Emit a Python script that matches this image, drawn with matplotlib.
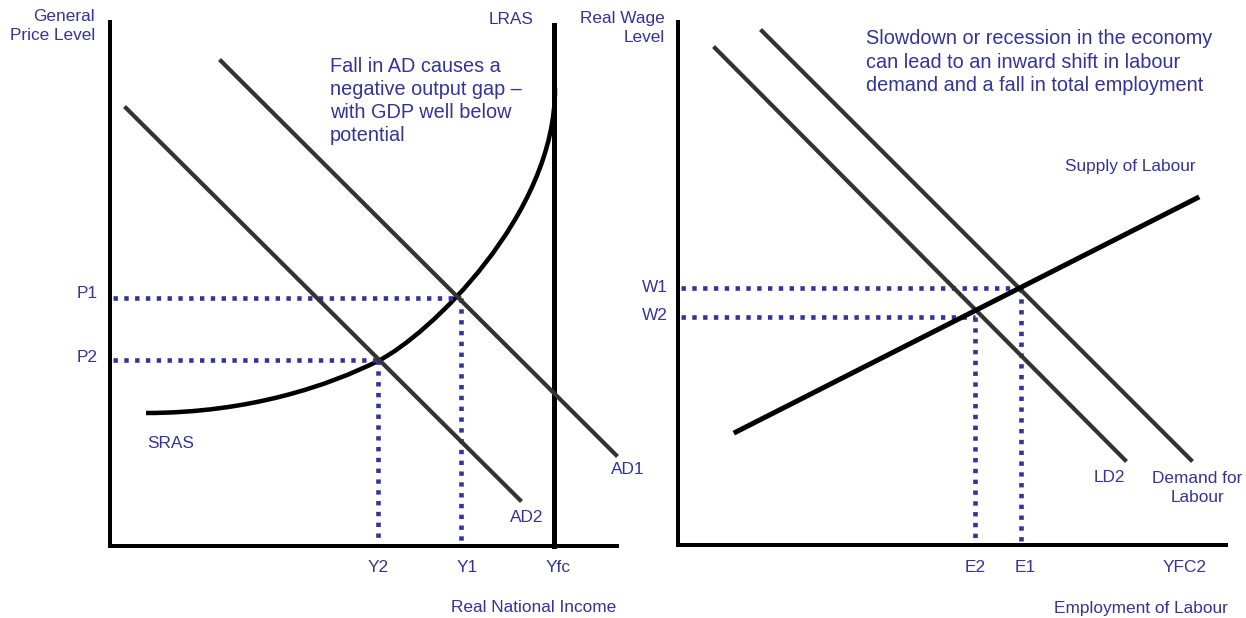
import matplotlib.pyplot as plt
from matplotlib.path import Path
from matplotlib.patches import PathPatch

plt.rcParams['font.family'] = ['Liberation Sans', 'DejaVu Sans']

# all positions in pixel units (y grows downwards)
BLUE = '#333399'
GREY = '#333333'

# --- left panel: AD / AS diagram ---
left_axis_x = [110, 110, 617]
left_axis_y = [22, 546, 546]
lras_x = [554, 554]
lras_y = [25, 546]
# SRAS as two cubic bezier pieces: start, ctrl, ctrl, join, ctrl, ctrl, end
sras_x = [146, 250, 330, 378, 428, 556, 555]
sras_y = [413, 413, 385, 361, 336, 215, 88]
ad1_x = [221, 616]
ad1_y = [61, 455]
ad2_x = [126, 520]
ad2_y = [108, 500]
price_levels = {'P1': 298, 'P2': 360}
outputs = {'Y2': (378, 360), 'Y1': (461, 298)}

# --- right panel: labour market ---
right_axis_x = [678, 678, 1226]
right_axis_y = [22, 545, 545]
ld1_x = [762, 1191]
ld1_y = [31, 460]
ld2_x = [715, 1125]
ld2_y = [48, 460]
ls_x = [736, 1197]
ls_y = [432, 198]
wages = {'W1': (288, 1020), 'W2': (317, 975)}
employment = {'E2': (975, 317), 'E1': (1021, 288)}

fig = plt.figure(figsize=(12.46, 6.18), dpi=100)
ax = fig.add_axes([0, 0, 1, 1])
ax.set_xlim(0, 1246)
ax.set_ylim(618, 0)
ax.axis('off')

px = 72 / 100  # one pixel in points
dot = dict(color=BLUE, lw=4.6 * px, linestyle=(0, (0.95, 1.4)), dash_capstyle='butt')

# dotted guides first so curves sit on top
for name, y in price_levels.items():
    xe = outputs['Y1'][0] if name == 'P1' else outputs['Y2'][0]
    ax.plot([113, xe], [y, y], **dot)
for name, (x, y) in outputs.items():
    ax.plot([x, x], [y, 543], **dot)
for name, (y, xe) in wages.items():
    ax.plot([681, xe], [y, y], **dot)
for name, (x, y) in employment.items():
    ax.plot([x, x], [y, 541], **dot)

ax.plot(left_axis_x, left_axis_y, color='black', lw=4 * px, solid_joinstyle='miter')
ax.plot(right_axis_x, right_axis_y, color='black', lw=4 * px, solid_joinstyle='miter')
ax.plot(lras_x, lras_y, color='black', lw=5 * px)

codes = [Path.MOVETO] + [Path.CURVE4] * 6
sras = Path(list(zip(sras_x, sras_y)), codes)
ax.add_patch(PathPatch(sras, facecolor='none', edgecolor='black', lw=4.5 * px))

ax.plot(ad1_x, ad1_y, color=GREY, lw=4.2 * px)
ax.plot(ad2_x, ad2_y, color=GREY, lw=4.2 * px)
ax.plot(ld1_x, ld1_y, color=GREY, lw=4.2 * px)
ax.plot(ld2_x, ld2_y, color=GREY, lw=4.2 * px)
ax.plot(ls_x, ls_y, color='black', lw=5 * px)

small = dict(color=BLUE, fontsize=12.4, linespacing=1.4)
big = dict(color=BLUE, fontsize=14.3, linespacing=1.27)

ax.text(95, 26, 'General\nPrice Level', ha='right', va='center', **small)
ax.text(533, 20, 'LRAS', ha='right', va='center', **small)
ax.text(330, 101, 'Fall in AD causes a\nnegative output gap –\nwith GDP well below\npotential',
        ha='left', va='center', **big)
ax.text(98, 293, 'P1', ha='right', va='center', **small)
ax.text(98, 357, 'P2', ha='right', va='center', **small)
ax.text(147, 444, 'SRAS', ha='left', va='center', **small)
ax.text(628, 470, 'AD1', ha='center', va='center', **small)
ax.text(527, 518, 'AD2', ha='center', va='center', **small)
ax.text(378, 567, 'Y2', ha='center', va='center', **small)
ax.text(467, 567, 'Y1', ha='center', va='center', **small)
ax.text(558, 567, 'Yfc', ha='center', va='center', **small)
ax.text(534, 608, 'Real National Income', ha='center', va='center', **small)

ax.text(665, 28, 'Real Wage\nLevel', ha='right', va='center', **small)
ax.text(866, 62, 'Slowdown or recession in the economy\ncan lead to an inward shift in labour\n'
        'demand and a fall in total employment', ha='left', va='center', **big)
ax.text(1065, 166, 'Supply of Labour', ha='left', va='center', **small)
ax.text(668, 288, 'W1', ha='right', va='center', **small)
ax.text(668, 316, 'W2', ha='right', va='center', **small)
ax.text(1109, 477, 'LD2', ha='center', va='center', **small)
ax.text(1197, 488, 'Demand for\nLabour', ha='center', va='center', **small)
ax.text(975, 567, 'E2', ha='center', va='center', **small)
ax.text(1025, 567, 'E1', ha='center', va='center', **small)
ax.text(1185, 567, 'YFC2', ha='center', va='center', **small)
ax.text(1228, 608, 'Employment of Labour', ha='right', va='center', **small)

fig.savefig('out.png', dpi=100)
